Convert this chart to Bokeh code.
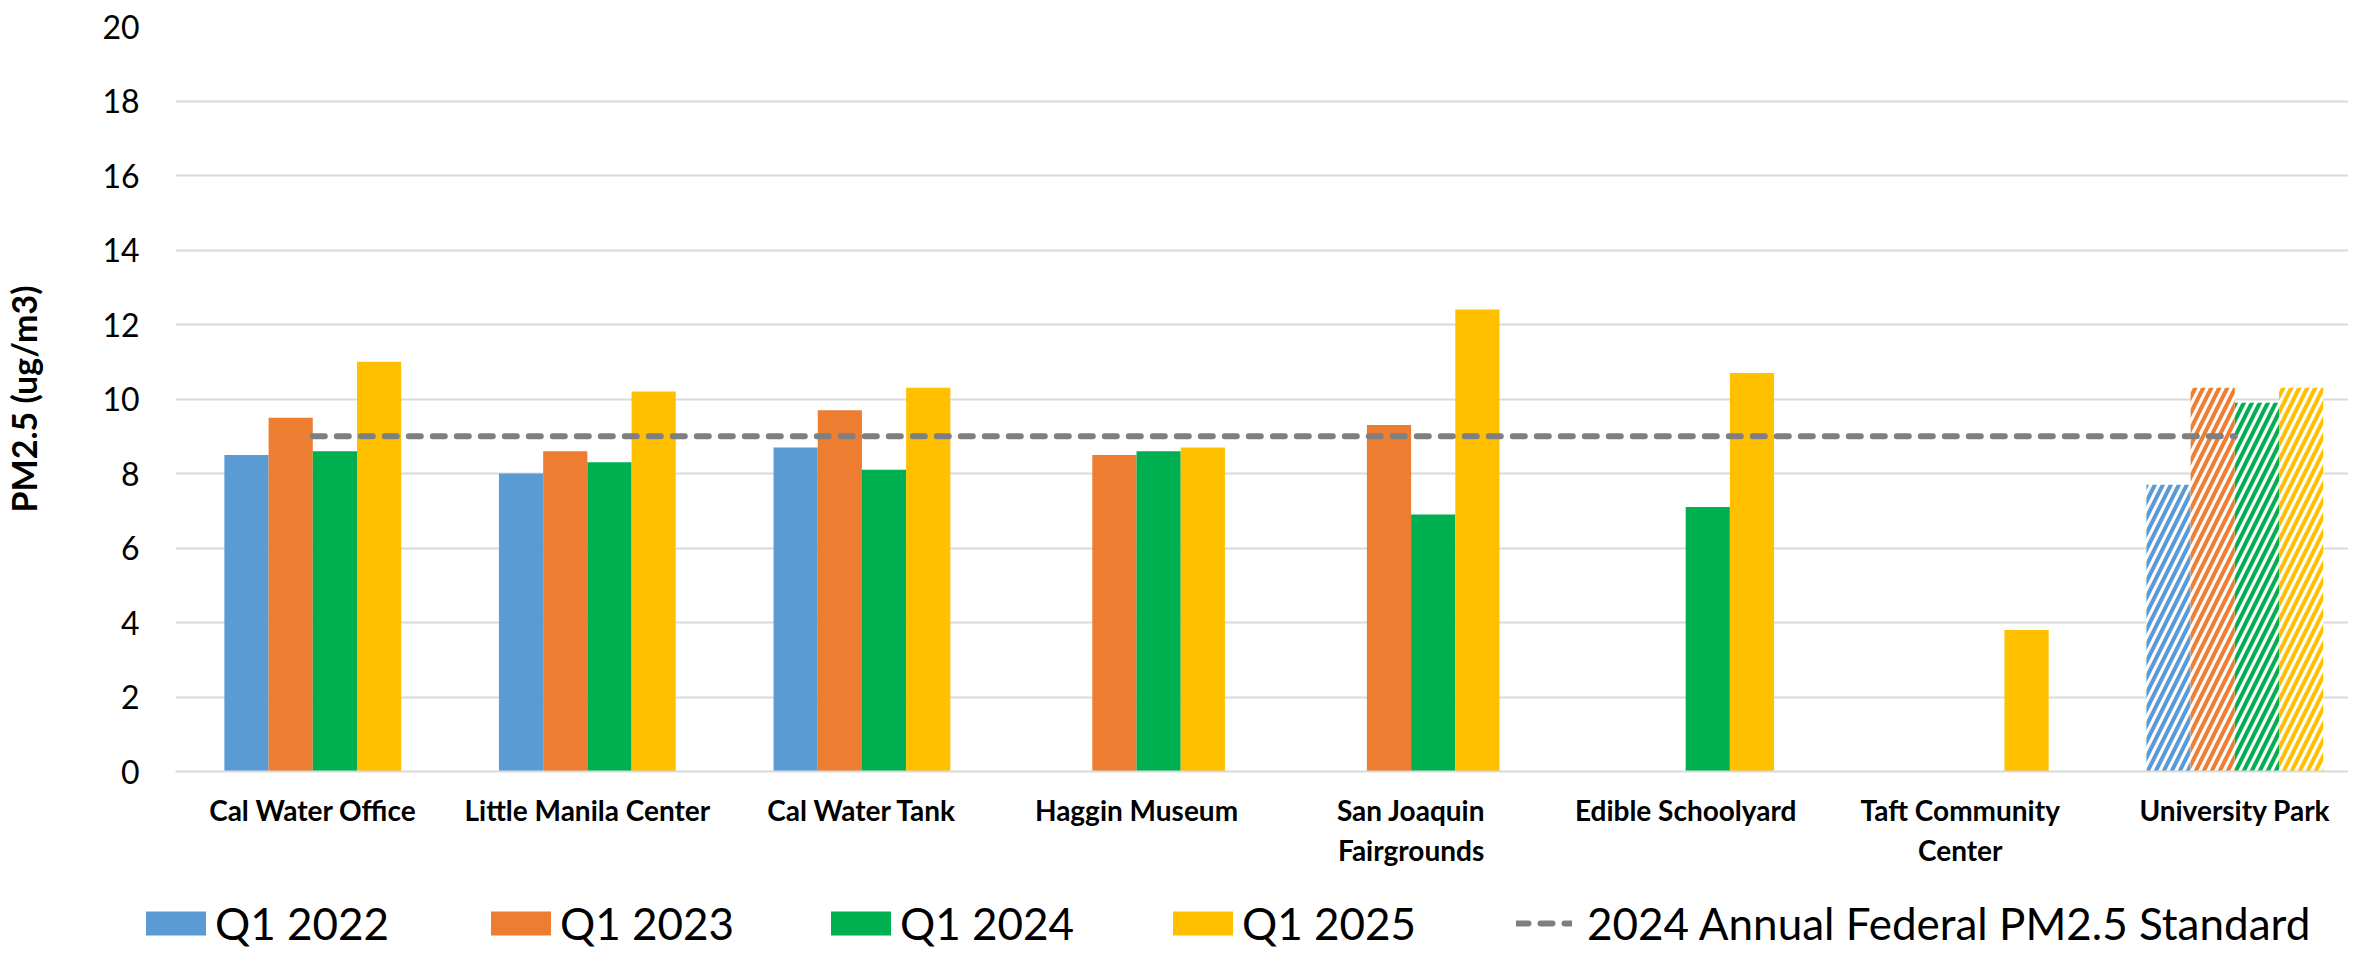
import math
from bokeh.plotting import figure
from bokeh.layouts import column
from bokeh.models import ColumnDataSource, Range1d, FixedTicker, Legend, LegendItem
from bokeh.embed import file_html
from bokeh.resources import INLINE

nan = math.nan

# ---------------- data ----------------
sites = ["Cal Water Office", "Little Manila Center", "Cal Water Tank", "Haggin Museum",
         "San Joaquin\nFairgrounds", "Edible Schoolyard", "Taft Community\nCenter",
         "University Park"]
q1_2022 = [8.5, 8.0, 8.7, nan, nan, nan, nan, 7.7]
q1_2023 = [9.5, 8.6, 9.7, 8.5, 9.3, nan, nan, 10.3]
q1_2024 = [8.6, 8.3, 8.1, 8.6, 6.9, 7.1, nan, 9.9]
q1_2025 = [11.0, 10.2, 10.3, 8.7, 12.4, 10.7, 3.8, 10.3]
federal_standard = [9.0, 9.0, 9.0, 9.0, 9.0, 9.0, 9.0, 9.0]
hatched_sites = ["University Park"]
series_names = ["Q1 2022", "Q1 2023", "Q1 2024", "Q1 2025"]
series_values = [q1_2022, q1_2023, q1_2024, q1_2025]
standard_label = "2024 Annual Federal PM2.5 Standard"
y_ticks = [0, 2, 4, 6, 8, 10, 12, 14, 16, 18, 20]

# ---------------- style ----------------
colors = ["#5B9BD5", "#ED7D31", "#00B050", "#FFC000"]
std_color = "#7F7F7F"
bar_w = 0.161
offsets = [-1.5 * bar_w, -0.5 * bar_w, 0.5 * bar_w, 1.5 * bar_w]
centers = [i + 0.5 for i in range(len(sites))]

W = 2348
H1 = 870
H2 = 79

p = figure(width=W, height=H1,
           x_range=Range1d(0, 7.914), y_range=Range1d(0, 20),
           output_backend="svg", toolbar_location=None,
           min_border_left=170, min_border_right=0,
           min_border_top=26, min_border_bottom=H1 - 778)
p.outline_line_color = None
p.background_fill_color = "white"
p.border_fill_color = "white"

p.xgrid.grid_line_color = None
p.ygrid.grid_line_color = "#D9D9D9"
p.ygrid.grid_line_width = 2
p.ygrid.ticker = FixedTicker(ticks=y_ticks)

# y axis
p.yaxis.ticker = FixedTicker(ticks=y_ticks)
p.yaxis.axis_line_color = None
p.yaxis.major_tick_line_color = None
p.yaxis.minor_tick_line_color = None
p.yaxis.major_tick_out = 0
p.yaxis.major_label_standoff = 36
p.yaxis.major_label_text_font = "Lato"
p.yaxis.major_label_text_font_size = "32px"
p.yaxis.major_label_text_color = "black"
p.yaxis.axis_label = "PM2.5 (ug/m3)"
p.yaxis.axis_label_text_font = "Lato"
p.yaxis.axis_label_text_font_style = "bold"
p.yaxis.axis_label_text_font_size = "34px"
p.yaxis.axis_label_text_color = "black"
p.yaxis.axis_label_standoff = 55

# x axis
p.xaxis.ticker = FixedTicker(ticks=centers)
p.xaxis.major_label_overrides = {c: s for c, s in zip(centers, sites)}
p.xaxis.axis_line_color = "#D9D9D9"
p.xaxis.axis_line_width = 2
p.xaxis.major_tick_line_color = None
p.xaxis.minor_tick_line_color = None
p.xaxis.major_tick_out = 0
p.xaxis.major_label_standoff = 21
p.xaxis.major_label_text_font = "Lato"
p.xaxis.major_label_text_font_style = "bold"
p.xaxis.major_label_text_font_size = "28px"
p.xaxis.major_label_text_color = "black"

# bars
sources = []
for name, vals, col, off in zip(series_names, series_values, colors, offsets):
    solid = dict(x=[], top=[])
    hatch = dict(x=[], top=[])
    for site, c, v in zip(sites, centers, vals):
        if math.isnan(v):
            continue
        d = hatch if site in hatched_sites else solid
        d["x"].append(c + off)
        d["top"].append(v)
    src = ColumnDataSource(solid)
    sources.append(src)
    p.vbar(x="x", top="top", bottom=0, width=bar_w, source=src,
           fill_color=col, line_color=None)
    p.vbar(x="x", top="top", bottom=0, width=bar_w, source=ColumnDataSource(hatch),
           fill_color="white", line_color=None, hatch_pattern="/",
           hatch_color=col, hatch_weight=4, hatch_scale=16)

# standard line
std_src = ColumnDataSource(dict(x=centers, y=federal_standard))
p.line(x="x", y="y", source=std_src, line_color=std_color, line_width=6,
       line_dash="12 12", line_cap="round")

# ---------------- legend strip (same data, ranges placed out of view) ----------------
p2 = figure(width=W, height=H2, x_range=Range1d(-20, -19), y_range=Range1d(-20, -19),
            output_backend="svg", toolbar_location=None,
            min_border_left=0, min_border_right=0, min_border_top=0, min_border_bottom=0)
if "frame_align" in p2.properties():
    p2.frame_align = False
p2.axis.visible = False
p2.grid.visible = False
p2.outline_line_color = None
p2.background_fill_color = "white"
p2.border_fill_color = "white"

page_x0 = 8
legend_vy = 0
swatch_left = [149, 494, 834, 1176]
for name, col, src, sx in zip(series_names, colors, sources, swatch_left):
    r = p2.vbar(x="x", top="top", bottom=0, width=bar_w, source=src,
                fill_color=col, line_color=None)
    lg = Legend(items=[LegendItem(label=name, renderers=[r])],
                location=(sx - 3 - page_x0, legend_vy),
                glyph_width=75, glyph_height=30, label_standoff=2,
                label_text_font="Lato", label_text_font_size="44px",
                label_text_color="black", padding=0, margin=0,
                border_line_color=None, background_fill_alpha=0)
    p2.add_layout(lg)

r_std = p2.line(x="x", y="y", source=std_src,
                line_color=std_color, line_width=6, line_dash="12 12", line_cap="round")
lg = Legend(items=[LegendItem(label=standard_label, renderers=[r_std])],
            location=(1524 - page_x0, legend_vy),
            glyph_width=56, glyph_height=30, label_standoff=15,
            label_text_font="Lato", label_text_font_size="44px",
            label_text_color="black", padding=0, margin=0,
            border_line_color=None, background_fill_alpha=0)
p2.add_layout(lg)

layout = column(p, p2, spacing=0)
open("out.html", "w").write(file_html(layout, INLINE))
